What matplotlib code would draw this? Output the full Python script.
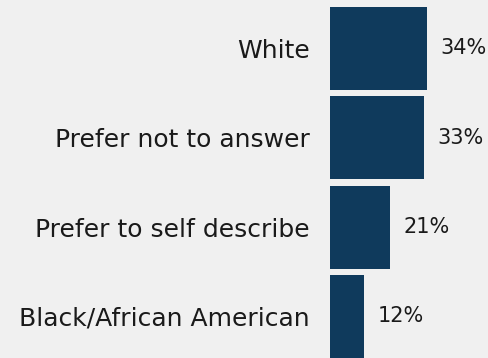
import matplotlib
matplotlib.use('Agg')
import matplotlib.pyplot as plt

# Data
categories = ['White', 'Prefer not to answer', 'Prefer to self describe', 'Black/African American']
values = [34, 33, 21, 12]
value_labels = ['34%', '33%', '21%', '12%']

bg = '#f0f0f0'
bar_color = '#0f3a5c'
text_color = '#1a1a1a'

plt.rcParams['font.family'] = ['DejaVu Sans']

fig = plt.figure(figsize=(4.89, 3.58), dpi=100, facecolor=bg)
ax = fig.add_axes([330 / 489, 0, 1 - 330 / 489, 1])
ax.set_facecolor(bg)

y = list(range(len(categories)))
ax.barh(y, values, height=0.93, color=bar_color)

ax.set_xlim(0, 159 / 2.86)
ax.set_ylim(-0.543 + 358 / 89.3, -0.543)

ax.set_yticks(y)
ax.set_yticklabels(categories, fontsize=18, color=text_color)
ax.tick_params(axis='y', length=0, pad=14.5)
ax.set_xticks([])
for s in ax.spines.values():
    s.set_visible(False)

for yi, v, lab in zip(y, values, value_labels):
    ax.annotate(lab, (v, yi), xytext=(9.5, 0), textcoords='offset points',
                va='center', ha='left', fontsize=15, color=text_color)

fig.savefig('out.png', dpi=100, facecolor=bg)
